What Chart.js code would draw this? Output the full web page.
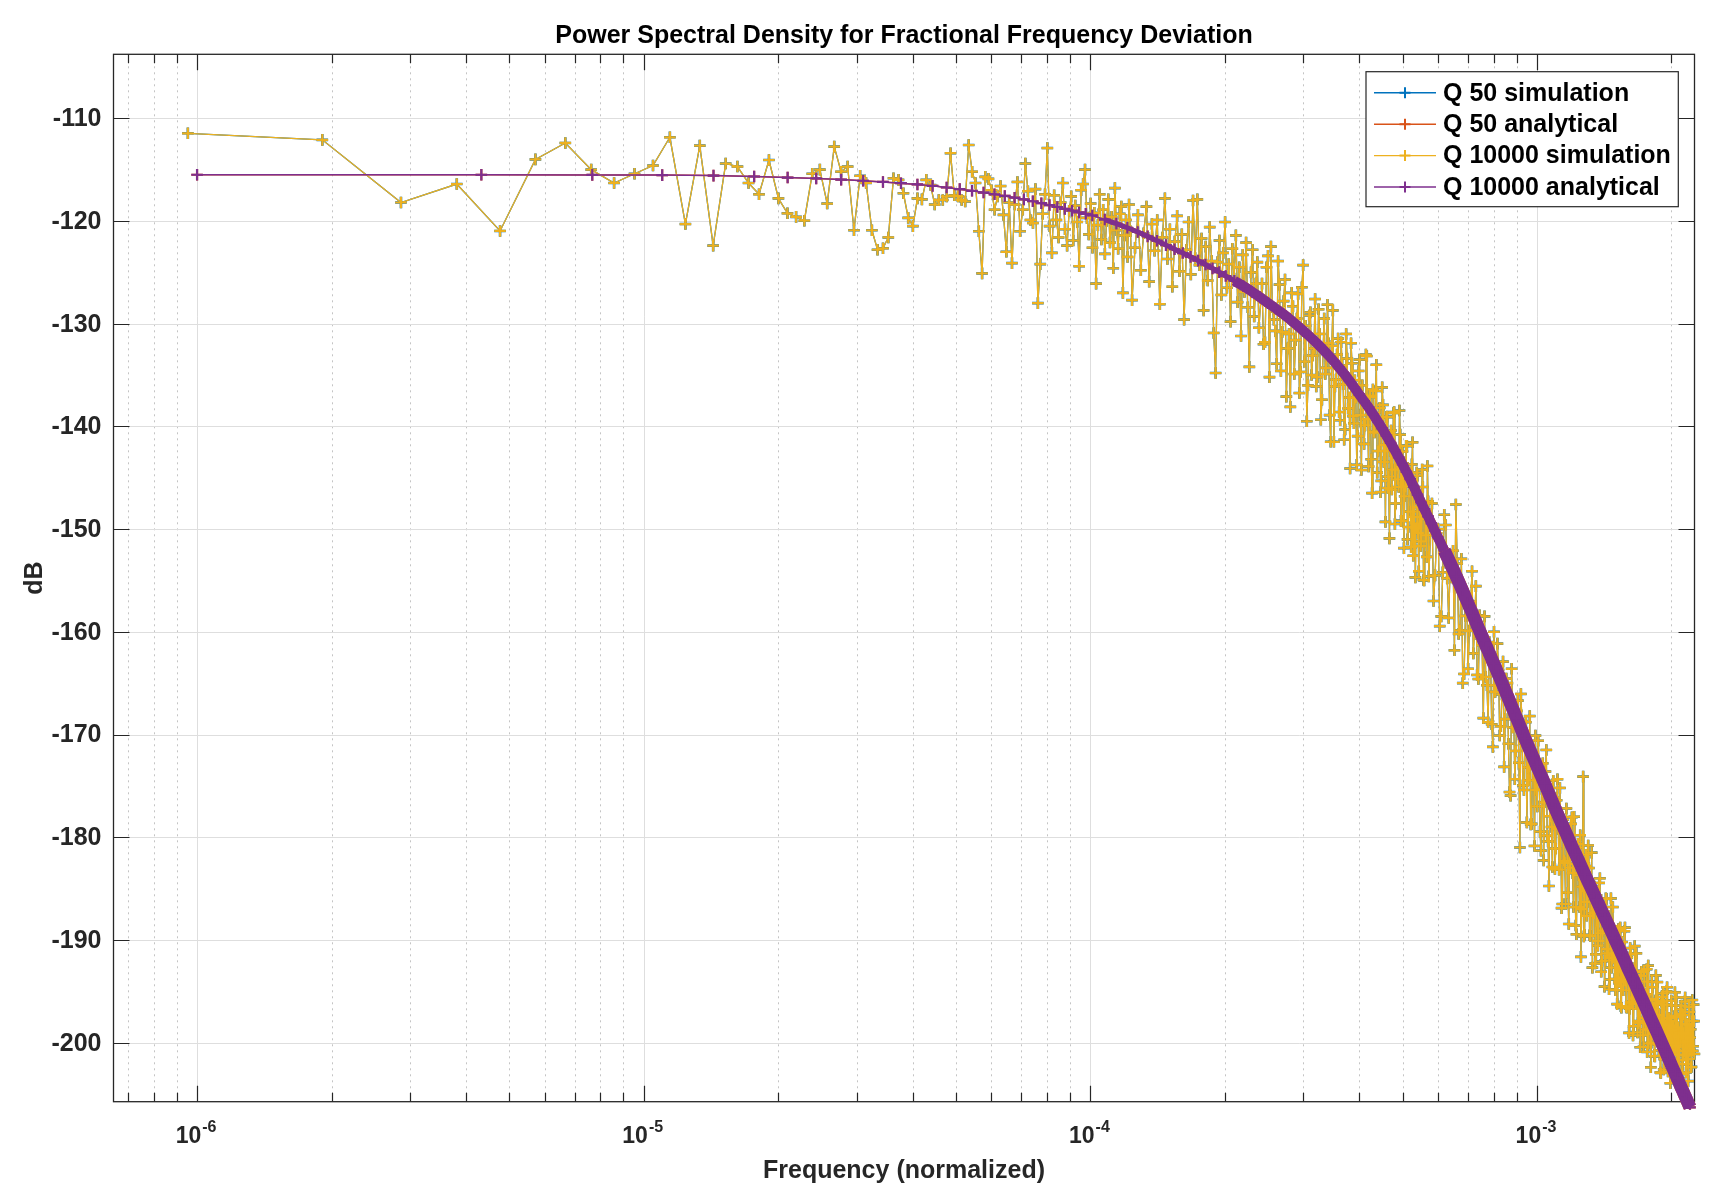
<!DOCTYPE html>
<html>
<head>
<meta charset="utf-8">
<title>Power Spectral Density for Fractional Frequency Deviation</title>
<script src="https://cdn.jsdelivr.net/npm/chart.js@4.4.1/dist/chart.umd.min.js"></script>
<style>
  html, body { margin: 0; padding: 0; background: #ffffff; }
  #wrap { width: 1720px; height: 1201px; }
</style>
</head>
<body>
<div id="wrap"><canvas id="psdChart" width="1720" height="1201"></canvas></div>
<script>
/* =====================================================
   PSD OF FRACTIONAL FREQUENCY DEVIATION (MATLAB-style)
   1. Data
   2. Axes / grid / labels / legend plugin
   3. Chart.js setup
   ===================================================== */

// ---------- 1. DATA ----------

// simulation bins: frequency = bin * BIN_WIDTH (normalized units)
const BIN_WIDTH = 9.5367e-7;

const simBins = [
  1, 2, 3, 4, 5, 6, 7, 8, 9, 10,
  11, 12, 13, 14, 15, 16, 17, 18, 19, 20,
  21, 22, 23, 24, 25, 26, 27, 28, 29, 30,
  31, 32, 33, 34, 35, 36, 37, 38, 39, 40,
  41, 42, 43, 44, 45, 46, 47, 48, 49, 50,
  51, 52, 53, 54, 55, 56, 57, 58, 59, 60,
  61, 62, 63, 64, 65, 66, 67, 68, 69, 70,
  71, 72, 73, 74, 75, 76, 77, 78, 79, 80,
  81, 82, 83, 84, 85, 86, 87, 88, 89, 90,
  91, 92, 93, 94, 95, 96, 97, 98, 99, 100,
  101, 102, 103, 104, 105, 106, 107, 108, 109, 110,
  111, 112, 113, 114, 115, 116, 117, 118, 119, 120,
  121, 122, 123, 124, 125, 126, 127, 128, 129, 130,
  132, 134, 136, 138, 140, 142, 144, 146, 148, 150,
  152, 154, 156, 158, 160, 162, 164, 166, 168, 170,
  172, 174, 176, 178, 180, 182, 184, 186, 188, 190,
  192, 194, 196, 198, 200, 202, 204, 206, 208, 210,
  212, 214, 216, 218, 220, 222, 224, 226, 228, 230,
  232, 234, 236, 238, 240, 242, 244, 246, 248, 250,
  254, 256, 258, 260, 262, 264, 266, 268, 270, 272,
  274, 276, 278, 280, 282, 284, 286, 288, 290, 292,
  294, 296, 298, 300, 302, 304, 306, 308, 310, 312,
  314, 316, 318, 320, 322, 324, 326, 328, 330, 332,
  334, 336, 338, 340, 342, 344, 346, 348, 350, 352,
  354, 356, 358, 360, 362, 364, 366, 368, 370, 372,
  374, 376, 378, 380, 382, 384, 386, 388, 390, 392,
  394, 396, 398, 400, 402, 404, 406, 408, 410, 412,
  414, 416, 418, 420, 422, 424, 426, 428, 430, 432,
  434, 436, 438, 440, 442, 444, 446, 448, 450, 452,
  454, 456, 458, 460, 462, 464, 466, 468, 470, 472,
  474, 476, 478, 480, 482, 484, 486, 488, 490, 492,
  494, 496, 498, 500, 502, 504, 506, 508, 510, 512,
  514, 516, 518, 520, 522, 524, 526, 528, 530, 532,
  534, 536, 538, 540, 542, 544, 546, 548, 550, 552,
  554, 556, 558, 560, 562, 564, 566, 568, 570, 572,
  574, 576, 578, 580, 582, 584, 586, 588, 590, 592,
  594, 596, 598, 600,
  610, 615, 620, 625, 630, 635, 640, 645, 650, 655,
  660, 665, 670, 675, 680, 685, 690, 695, 700, 705,
  710, 715, 720, 725, 730, 735, 740, 745, 750, 755,
  760, 765, 770, 775, 780, 785, 790, 795, 800, 805,
  810, 815, 820, 825, 830, 835, 840, 845, 850, 855,
  860, 865, 870, 875, 880, 885, 890, 895, 900, 905,
  910, 915, 920, 925, 930, 935, 940, 945, 950, 955,
  960, 965, 970, 975, 980, 985, 990, 995, 1000, 1005,
  1010, 1015, 1020, 1025, 1030, 1035, 1040, 1045, 1050, 1055,
  1060, 1065, 1070, 1075, 1080, 1085, 1090, 1095, 1100, 1105,
  1110, 1115, 1120, 1125, 1130, 1135, 1140, 1145, 1150, 1155,
  1160, 1165, 1170, 1175, 1180, 1185, 1190, 1195, 1200, 1205,
  1210, 1215, 1220, 1225, 1230, 1235, 1240, 1245, 1250, 1255,
  1260, 1265, 1270, 1275, 1280, 1285, 1290, 1295, 1300, 1305,
  1310, 1315, 1320, 1325, 1330, 1335, 1340, 1345, 1350, 1355,
  1360, 1365, 1370, 1375, 1380, 1385, 1390, 1395, 1400, 1405,
  1410, 1415, 1420, 1425, 1430, 1435, 1440, 1445, 1450, 1455,
  1460, 1465, 1470, 1475, 1480, 1485, 1490, 1495, 1500, 1505,
  1510, 1515, 1520, 1525, 1530, 1535, 1540, 1545, 1550, 1555,
  1560, 1565, 1570, 1575, 1580, 1585, 1590, 1595, 1600, 1605,
  1610, 1615, 1620, 1625, 1630, 1635, 1640, 1645, 1650, 1655,
  1660, 1665, 1670, 1675, 1680, 1685, 1690, 1695, 1700, 1705,
  1710, 1715, 1720, 1725, 1730, 1735, 1740, 1745, 1750, 1755,
  1760, 1765, 1770, 1775, 1780, 1785, 1790, 1795, 1800, 1805,
  1810, 1815, 1820, 1825, 1830, 1835, 1840, 1845, 1850, 1855,
  1860, 1865, 1870, 1875, 1880, 1885, 1890, 1895, 1900, 1905,
  1910, 1915, 1920, 1925, 1930, 1935, 1940, 1945, 1950, 1955,
  1960, 1965, 1970, 1975, 1980, 1985, 1990, 1995, 2000, 2005,
  2010, 2015, 2020, 2025, 2030, 2035, 2040, 2045, 2050, 2055,
  2060, 2065, 2070, 2075, 2080, 2085, 2090, 2095, 2100, 2105,
  2110, 2115, 2120, 2125, 2130, 2135, 2140, 2145, 2150, 2155,
  2160, 2165, 2170, 2175, 2180, 2185, 2190, 2195, 2200, 2205,
  2210, 2215, 2220, 2225, 2230, 2235, 2240, 2245, 2250, 2255,
  2260, 2265, 2270, 2275, 2280, 2285, 2290, 2295, 2300, 2305,
  2310, 2315, 2320, 2325, 2330, 2335, 2340, 2345, 2350, 2355,
  2360
];

// Q 10000 simulation, dB (one value per entry of simBins)
const q10000Sim = [
  -111.46, -112.1, -118.2, -116.4, -120.97, -114.0, -112.4, -115.0, -116.3, -115.4,
  -114.6, -111.85, -120.3, -112.66, -122.4, -114.4, -114.7, -116.3, -117.4, -114.06,
  -117.8, -119.25, -119.6, -119.97, -115.4, -115.0, -118.3, -112.76, -115.2, -114.7,
  -120.9, -115.6, -116.3, -120.9, -122.8, -122.66, -121.6, -115.84, -116.0, -117.3,
  -119.7, -120.5, -117.8, -117.9, -116.0, -116.5, -118.4, -117.95, -117.95, -117.6,
  -113.4, -117.5, -117.6, -117.95, -118.1, -112.6, -115.2, -116.3, -121.0, -125.1,
  -115.7, -115.9, -117.0, -118.9, -117.6, -116.6, -119.4, -123.0, -118.2, -124.1,
  -118.4, -116.2, -121.0, -118.9, -114.4, -117.1, -119.9, -120.2, -116.9, -128.0,
  -124.2, -119.3, -117.4, -112.9, -120.5, -123.1, -117.5, -119.9, -121.6, -118.2,
  -116.3, -120.8, -122.4, -119.0, -117.6, -121.9, -118.5, -120.1, -124.4, -117.0,
  -116.4, -115.0, -119.7, -121.3, -118.3, -122.6, -119.2, -126.1, -120.4, -117.4,
  -121.8, -118.9, -123.2, -120.0, -117.9, -122.1, -119.6, -124.6, -116.8, -120.9,
  -122.7, -119.3, -118.6, -127.0, -121.4, -119.9, -123.5, -118.4, -121.0, -127.7,
  -122.6, -119.4, -124.8, -121.2, -118.6, -125.9, -120.3, -122.9, -119.9, -128.1,
  -121.6, -117.8, -123.7, -120.8, -126.4, -122.0, -119.5, -124.9, -121.3, -129.6,
  -122.8, -120.1, -125.2, -118.0, -123.6, -117.9, -124.3, -121.7, -128.7, -122.5,
  -125.8, -120.6, -123.9, -130.9, -134.8, -124.0, -121.9, -127.2, -123.1, -120.1,
  -126.5, -124.2, -129.8, -122.7, -125.6, -121.4, -127.9, -124.5, -131.2, -123.3,
  -126.9, -122.1, -128.4, -134.2, -125.0, -122.8, -129.3, -126.1, -124.0, -130.4,
  -126.1, -132.0, -131.8, -124.5, -123.4, -135.2, -122.5, -128.4, -129.6, -130.7,
  -133.9, -123.9, -126.2, -134.6, -130.8, -127.8, -125.7, -137.1, -132.4, -131.0,
  -138.1, -127.0, -128.3, -134.9, -131.6, -129.5, -127.1, -136.75, -134.7, -126.45,
  -124.3, -133.7, -130.2, -139.5, -136.0, -129.2, -128.9, -135.0, -133.1, -132.4,
  -127.6, -136.1, -135.2, -128.6, -131.0, -139.35, -137.4, -132.6, -129.5, -134.9,
  -134.3, -128.15, -131.9, -138.9, -141.5, -132.15, -128.7, -141.5, -136.1, -135.45,
  -133.0, -131.45, -138.6, -139.4, -131.8, -134.05, -135.9, -141.3, -140.3, -131.0,
  -133.4, -138.25, -137.2, -144.1, -131.9, -133.85, -139.0, -139.7, -135.5, -137.2,
  -143.75, -140.95, -134.6, -133.5, -138.9, -144.25, -136.0, -137.5, -141.7, -139.9,
  -133.0, -133.15, -139.3, -143.9, -137.0, -137.15, -143.2, -146.5, -136.4, -140.5,
  -140.6, -136.55, -134.0, -144.5, -142.4, -139.15, -138.2, -146.4, -145.3, -136.2,
  -137.9, -143.45, -141.8, -149.3, -139.1, -139.05, -146.0, -144.9, -150.9, -142.4,
  -140.4, -146.15, -144.2, -138.7, -138.6, -149.5, -147.5, -142.75, -142.7, -145.15,
  -145.9, -138.45, -140.8, -149.2, -149.2, -142.45, -143.6, -151.85, -146.8, -145.85,
  -141.9, -141.9, -151.0, -149.8, -145.2, -144.5, -148.3, -151.75, -143.7, -141.55,
  -152.6, -148.8, -146.4, -154.7, -149.9, -144.5, -144.8, -150.4, -154.1, -147.85,
  -147.5, -151.65, -151.2, -144.2, -145.9, -154.95, -155.0, -148.25, -149.0, -150.6,
  -152.7, -143.85, -147.3, -154.6,
  -147.5, -157.0, -154.5, -150.4, -150.0, -159.45, -158.5, -154.2, -148.6, -149.6,
  -154.8, -158.65, -153.7, -154.7, -152.1, -161.8, -147.6, -153.35, -160.2, -159.85,
  -152.9, -165.0, -164.1, -158.45, -156.6, -163.6, -159.9, -157.05, -154.1, -162.1,
  -159.8, -155.55, -164.2, -164.6, -158.4, -160.65, -161.3, -168.4, -158.5, -164.4,
  -165.2, -168.8, -161.0, -162.2, -169.0, -171.2, -160.0, -165.85, -165.2, -161.15,
  -163.7, -170.1, -169.2, -166.1, -162.9, -173.15, -168.5, -164.55, -165.0, -170.9,
  -175.6, -175.95, -163.6, -169.3, -168.0, -174.35, -171.6, -167.7, -166.7, -172.75,
  -181.0, -166.05, -168.7, -174.95, -175.4, -170.9, -168.8, -178.55, -173.2, -174.45,
  -168.2, -178.75, -178.7, -172.0, -173.0, -180.85, -170.1, -175.4, -177.0, -170.6,
  -172.9, -179.45, -181.3, -175.3, -172.8, -182.25, -176.6, -173.6, -171.5, -179.85,
  -180.4, -184.75, -175.7, -177.95, -179.0, -182.9, -174.5, -176.15, -183.1, -181.1,
  -176.4, -174.35, -179.2, -183.15, -175.2, -178.95, -186.9, -186.5, -178.3, -182.3,
  -182.5, -186.5, -177.2, -179.65, -185.4, -188.45, -180.7, -182.95, -178.7, -178.05,
  -183.5, -186.8, -178.0, -182.6, -188.6, -189.45, -181.0, -180.65, -183.7, -186.8,
  -179.8, -191.65, -187.0, -184.8, -174.1, -189.65, -189.5, -182.8, -181.7, -187.65,
  -186.3, -180.8, -183.0, -189.55, -189.6, -185.3, -181.5, -192.7, -185.9, -187.4,
  -184.8, -192.3, -191.4, -185.65, -187.3, -190.55, -190.1, -184.45, -184.0, -189.35,
  -193.1, -192.1, -189.1, -187.65, -187.2, -194.55, -192.0, -185.95, -186.0, -191.3,
  -190.9, -189.0, -194.8, -193.85, -188.9, -185.95, -192.7, -191.8, -186.8, -189.0,
  -191.7, -193.8, -194.9, -191.5, -189.1, -196.25, -191.3, -188.95, -194.1, -191.7,
  -188.8, -196.45, -196.6, -190.2, -191.8, -194.9, -194.0, -189.15, -188.8, -193.9,
  -196.5, -196.6, -191.7, -192.3, -193.9, -199.05, -196.7, -190.8, -191.4, -196.0,
  -196.1, -193.7, -199.3, -198.4, -193.4, -190.6, -195.7, -196.25, -191.3, -193.4,
  -199.0, -198.1, -194.7, -195.8, -197.9, -200.45, -193.5, -193.1, -196.2, -195.75,
  -199.3, -200.4, -193.0, -194.05, -197.6, -198.7, -195.3, -192.85, -200.9, -197.45,
  -192.5, -200.1, -198.7, -195.75, -196.8, -202.4, -200.0, -194.05, -194.6, -199.15,
  -198.2, -196.75, -201.3, -201.35, -195.9, -193.45, -198.0, -199.05, -194.1, -196.15,
  -200.2, -200.75, -197.3, -198.35, -202.9, -202.95, -196.0, -195.55, -199.5, -198.1,
  -195.2, -202.6, -201.6, -196.3, -198.3, -200.8, -200.3, -195.0, -194.6, -199.45,
  -202.8, -201.9, -197.6, -197.65, -199.6, -203.95, -201.6, -195.9, -196.4, -200.7,
  -199.3, -198.35, -202.6, -202.6, -197.4, -195.1, -200.7, -200.3, -195.6, -197.5,
  -201.2, -201.7, -198.5, -199.4, -203.5, -203.55, -197.2, -196.75, -200.0, -199.05,
  -196.4, -203.05, -202.1, -197.3, -199.1, -201.25, -200.8, -196.0, -195.6, -199.95,
  -202.9, -202.1, -198.2, -198.25, -199.9, -203.75, -201.6, -196.55, -197.0, -200.8,
  -199.5, -198.7, -202.4, -202.35, -197.9, -195.85, -200.8, -200.35, -196.3, -197.9,
  -201.1
];

// the Q 50 run lies under the Q 10000 run to within a pixel, same readings
const q50Sim = q10000Sim;

// analytical curve, frequency in units of 1e-6
const analyticFreqMicro = [
  1, 4.33, 7.67, 11, 14.33, 17.67, 21, 24.33, 27.67, 31,
  34.33, 37.67, 41, 44.33, 47.67, 51, 54.33, 57.67, 61, 64.33,
  67.67, 71, 74.33, 77.67, 81, 84.33, 87.67, 91, 94.33, 97.67, 101,
  107.67, 114.33, 121, 127.67, 134.33, 141, 147.67, 154.33, 161, 167.67,
  174.33, 181, 187.67, 194.33, 201,
  210, 220, 230, 240, 250, 260, 270, 280, 290, 300,
  310, 320, 330, 340, 350, 360, 370, 380, 390, 400,
  410, 420, 430, 440, 450, 460, 470, 480, 490, 500,
  510, 520, 530, 540, 550, 560, 570, 580, 590, 600,
  620, 640, 660, 680, 700, 720, 740, 760, 780, 800,
  820, 840, 860, 880, 900, 920, 940, 960, 980, 1000,
  1020, 1040, 1060, 1080, 1100, 1120, 1140, 1160, 1180, 1200,
  1220, 1240, 1260, 1280, 1300, 1320, 1340, 1360, 1380, 1400,
  1420, 1440, 1460, 1480, 1500, 1520, 1540, 1560, 1580, 1600,
  1620, 1640, 1660, 1680, 1700, 1720, 1740, 1760, 1780, 1800,
  1820, 1840, 1860, 1880, 1900, 1920, 1940, 1960, 1980, 2000,
  2020, 2040, 2060, 2080, 2100, 2120, 2140, 2160, 2180, 2200
];

const q10000Analytic = [
  -115.50, -115.50, -115.51, -115.53, -115.58, -115.67, -115.77, -115.86, -115.97, -116.08,
  -116.20, -116.32, -116.44, -116.58, -116.74, -116.90, -117.06, -117.23, -117.40, -117.56,
  -117.73, -117.90, -118.08, -118.27, -118.45, -118.64, -118.82, -119.00, -119.17, -119.30, -119.46,
  -119.86, -120.26, -120.66, -121.07, -121.50, -121.92, -122.35, -122.75, -123.12, -123.49,
  -123.86, -124.24, -124.61, -124.98, -125.36,
  -125.82, -126.34, -126.88, -127.44, -128.00, -128.52, -129.04, -129.58, -130.14, -130.70,
  -131.26, -131.82, -132.40, -133.00, -133.60, -134.24, -134.88, -135.54, -136.22, -136.90,
  -137.54, -138.18, -138.84, -139.52, -140.20, -140.90, -141.60, -142.30, -143.00, -143.70,
  -144.42, -145.14, -145.88, -146.64, -147.40, -148.08, -148.76, -149.44, -150.12, -150.80,
  -152.08, -153.36, -154.64, -155.92, -157.20, -158.44, -159.68, -160.86, -161.98, -163.10,
  -164.18, -165.26, -166.32, -167.36, -168.40, -169.40, -170.40, -171.34, -172.22, -173.10,
  -173.94, -174.78, -175.62, -176.46, -177.30, -178.06, -178.82, -179.56, -180.28, -181.00,
  -181.66, -182.32, -182.98, -183.64, -184.30, -184.90, -185.50, -186.10, -186.70, -187.30,
  -187.86, -188.42, -188.98, -189.54, -190.10, -190.64, -191.18, -191.72, -192.26, -192.80,
  -193.30, -193.80, -194.30, -194.80, -195.30, -195.78, -196.26, -196.74, -197.22, -197.70,
  -198.16, -198.62, -199.08, -199.54, -200.00, -200.44, -200.88, -201.32, -201.76, -202.20,
  -202.62, -203.04, -203.46, -203.88, -204.30, -204.70, -205.10, -205.50, -205.90, -206.30
];

// Q 50 analytical is hidden under the Q 10000 curve
const q50Analytic = q10000Analytic;

const seriesNames = ['Q 50 simulation', 'Q 50 analytical', 'Q 10000 simulation', 'Q 10000 analytical'];
const xTickExponents = [-6, -5, -4, -3];
const yTicks = [-110, -120, -130, -140, -150, -160, -170, -180, -190, -200];

// axis limits as in the figure
const X_MIN = 6.5e-7, X_MAX = 2.252e-3;
const Y_MIN = -205.75, Y_MAX = -103.77;

// MATLAB default line colours
const colors = {
  blue: '#0072BD',
  red: '#D95319',
  yellow: '#EDB120',
  purple: '#7E2F8E',
  axis: '#262626',
  gridMajor: '#dedede',
  gridMinor: '#c4c4c4',
};

const FONT = "'Liberation Sans', Arial, Helvetica, sans-serif";


// ---------- 2. AXES / LABELS / LEGEND PLUGIN ----------

function minorTickValues() {
  const out = [];
  for (let e = -7; e <= -3; e++) {
    for (let m = 2; m <= 9; m++) {
      const v = m * Math.pow(10, e);
      if (v > X_MIN && v < X_MAX) out.push(v);
    }
  }
  return out;
}

function drawCross(ctx, cx, cy, r, color, lw) {
  ctx.strokeStyle = color;
  ctx.lineWidth = lw;
  ctx.beginPath();
  ctx.moveTo(cx - r, cy); ctx.lineTo(cx + r, cy);
  ctx.moveTo(cx, cy - r); ctx.lineTo(cx, cy + r);
  ctx.stroke();
}

const matlabAxes = {
  id: 'matlabAxes',

  beforeDatasetsDraw(chart) {
    const { ctx, chartArea: a, scales } = chart;
    const xs = scales.x, ys = scales.y;
    const majorLen = 16, minorLen = 9;
    ctx.save();

    // minor x grid, dotted
    ctx.strokeStyle = colors.gridMinor;
    ctx.lineWidth = 1;
    ctx.setLineDash([2, 4]);
    minorTickValues().forEach((v) => {
      const px = Math.round(xs.getPixelForValue(v)) + 0.5;
      ctx.beginPath(); ctx.moveTo(px, a.top); ctx.lineTo(px, a.bottom); ctx.stroke();
    });
    ctx.setLineDash([]);

    // major grid
    ctx.strokeStyle = colors.gridMajor;
    xTickExponents.forEach((e) => {
      const px = Math.round(xs.getPixelForValue(Math.pow(10, e))) + 0.5;
      ctx.beginPath(); ctx.moveTo(px, a.top); ctx.lineTo(px, a.bottom); ctx.stroke();
    });
    yTicks.forEach((v) => {
      const py = Math.round(ys.getPixelForValue(v)) + 0.5;
      ctx.beginPath(); ctx.moveTo(a.left, py); ctx.lineTo(a.right, py); ctx.stroke();
    });

    // box
    ctx.strokeStyle = colors.axis;
    ctx.lineWidth = 1.3;
    ctx.strokeRect(a.left, a.top, a.right - a.left, a.bottom - a.top);

    // ticks pointing inwards on all four sides
    ctx.lineWidth = 1.2;
    ctx.beginPath();
    minorTickValues().forEach((v) => {
      const px = Math.round(xs.getPixelForValue(v)) + 0.5;
      ctx.moveTo(px, a.bottom); ctx.lineTo(px, a.bottom - minorLen);
      ctx.moveTo(px, a.top); ctx.lineTo(px, a.top + minorLen);
    });
    xTickExponents.forEach((e) => {
      const px = Math.round(xs.getPixelForValue(Math.pow(10, e))) + 0.5;
      ctx.moveTo(px, a.bottom); ctx.lineTo(px, a.bottom - majorLen);
      ctx.moveTo(px, a.top); ctx.lineTo(px, a.top + majorLen);
    });
    yTicks.forEach((v) => {
      const py = Math.round(ys.getPixelForValue(v)) + 0.5;
      ctx.moveTo(a.left, py); ctx.lineTo(a.left + majorLen, py);
      ctx.moveTo(a.right, py); ctx.lineTo(a.right - majorLen, py);
    });
    ctx.stroke();

    // y tick labels
    ctx.fillStyle = colors.axis;
    ctx.font = `bold 25px ${FONT}`;
    ctx.textAlign = 'right';
    ctx.textBaseline = 'middle';
    yTicks.forEach((v) => {
      ctx.fillText(String(v), a.left - 12, ys.getPixelForValue(v) + 1);
    });

    // x tick labels as 10^e
    ctx.textAlign = 'left';
    ctx.textBaseline = 'alphabetic';
    xTickExponents.forEach((e) => {
      const px = xs.getPixelForValue(Math.pow(10, e));
      ctx.font = `bold 23px ${FONT}`;
      const wBase = ctx.measureText('10').width;
      ctx.font = `bold 16px ${FONT}`;
      const wExp = ctx.measureText(String(e)).width;
      const start = px - (wBase + 1 + wExp) / 2 - 1;
      ctx.font = `bold 23px ${FONT}`;
      ctx.fillText('10', start, a.bottom + 41.5);
      ctx.font = `bold 16px ${FONT}`;
      ctx.fillText(String(e), start + wBase + 1, a.bottom + 30);
    });

    // axis titles
    ctx.font = `bold 25px ${FONT}`;
    ctx.textAlign = 'center';
    ctx.fillText('Frequency (normalized)', (a.left + a.right) / 2, a.bottom + 76.5);
    ctx.save();
    ctx.translate(42, (a.top + a.bottom) / 2);
    ctx.rotate(-Math.PI / 2);
    ctx.fillText('dB', 0, 0);
    ctx.restore();

    // title
    ctx.fillStyle = '#000000';
    ctx.fillText('Power Spectral Density for Fractional Frequency Deviation', (a.left + a.right) / 2, 42.5);

    ctx.restore();
  },

  afterDatasetsDraw(chart) {
    const { ctx } = chart;
    const box = { left: 1366, top: 71.7, right: 1678.3, bottom: 206.7 };
    const swatch = [colors.blue, colors.red, colors.yellow, colors.purple];
    ctx.save();
    ctx.fillStyle = '#ffffff';
    ctx.fillRect(box.left, box.top, box.right - box.left, box.bottom - box.top);
    ctx.strokeStyle = colors.axis;
    ctx.lineWidth = 1.2;
    ctx.strokeRect(box.left, box.top, box.right - box.left, box.bottom - box.top);

    ctx.font = `bold 25px ${FONT}`;
    ctx.textAlign = 'left';
    ctx.textBaseline = 'middle';
    seriesNames.forEach((name, i) => {
      const cy = 92.8 + i * 31.4;
      ctx.strokeStyle = swatch[i];
      ctx.lineWidth = 1.4;
      ctx.beginPath(); ctx.moveTo(1374, cy); ctx.lineTo(1436, cy); ctx.stroke();
      drawCross(ctx, 1405, cy, 5.5, swatch[i], 2);
      ctx.fillStyle = '#000000';
      ctx.fillText(name, 1443, cy + 1);
    });
    ctx.restore();
  },
};


// ---------- 3. CHART ----------

const simPoints = (vals) => simBins.map((bin, i) => ({ x: bin * BIN_WIDTH, y: vals[i] }));
const analyticPoints = (vals) => analyticFreqMicro.map((f, i) => ({ x: f * 1e-6, y: vals[i] }));

// analytical markers crowd into a solid band at higher frequency
function analyticWidth(ctx) {
  const f = analyticFreqMicro[ctx.p0DataIndex];
  if (f < 105) return 1.5;
  if (f < 205) return 5;
  if (f < 605) return 10;
  return 13;
}

function lineSet(label, data, color, order, opts) {
  return Object.assign({
    label,
    data,
    order,
    borderColor: color,
    backgroundColor: color,
    pointBorderColor: color,
    pointBackgroundColor: color,
    pointStyle: 'cross',
    pointRadius: 5.8,
    pointBorderWidth: 2.2,
    borderWidth: 1.3,
    tension: 0,
    fill: false,
    clip: 8,
  }, opts || {});
}

new Chart(document.getElementById('psdChart'), {
  type: 'line',
  data: {
    datasets: [
      lineSet(seriesNames[0], simPoints(q50Sim), colors.blue, 4, { pointBorderWidth: 2.6 }),
      lineSet(seriesNames[1], analyticPoints(q50Analytic), colors.red, 3, { segment: { borderWidth: analyticWidth } }),
      lineSet(seriesNames[2], simPoints(q10000Sim), colors.yellow, 2),
      lineSet(seriesNames[3], analyticPoints(q10000Analytic), colors.purple, 1, { segment: { borderWidth: analyticWidth } }),
    ],
  },
  options: {
    responsive: false,
    devicePixelRatio: 1,
    animation: false,
    events: [],
    parsing: false,
    layout: { padding: { left: 113.5, right: 25.5, top: 54.3, bottom: 99.3 } },
    plugins: {
      legend: { display: false },
      title: { display: false },
      tooltip: { enabled: false },
    },
    scales: {
      x: { type: 'logarithmic', min: X_MIN, max: X_MAX, display: false },
      y: { type: 'linear', min: Y_MIN, max: Y_MAX, display: false },
    },
  },
  plugins: [matlabAxes],
});
</script>
</body>
</html>
